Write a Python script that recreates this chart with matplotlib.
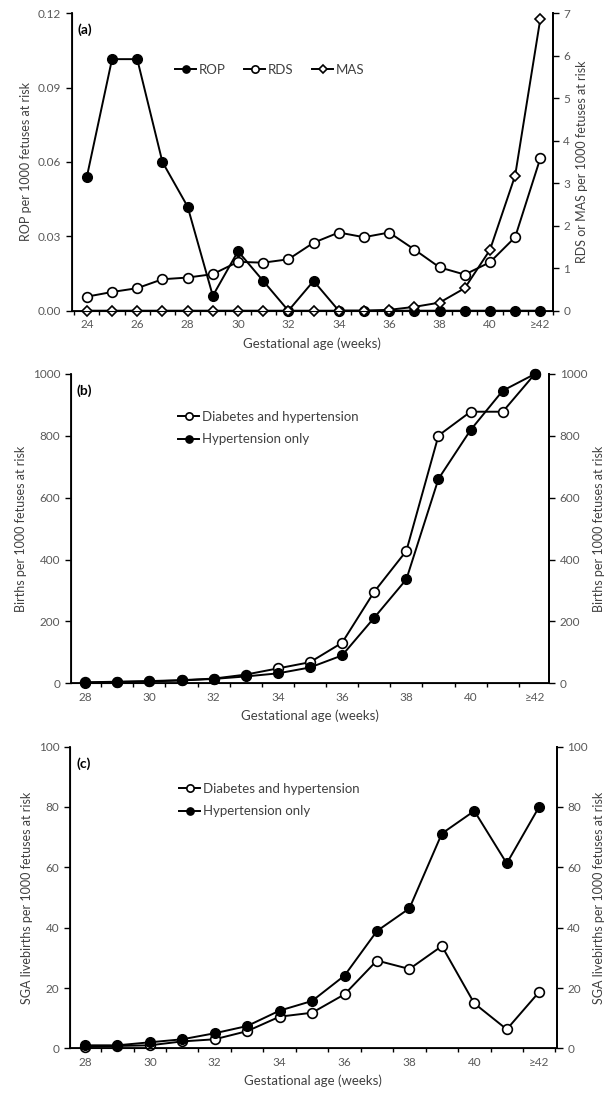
import matplotlib
matplotlib.use('Agg')
from matplotlib import pyplot as plt
from matplotlib.ticker import FixedLocator, NullFormatter

plt.rcParams['font.family'] = ['Lato', 'DejaVu Sans']

# panel (a): neonatal morbidity by gestational age
weeks_a = ['24', '25', '26', '27', '28', '29', '30', '31', '32', '33', '34', '35',
           '36', '37', '38', '39', '40', '41', '\u226542']
rop = [0.054, 0.1015, 0.1015, 0.060, 0.042, 0.006, 0.024, 0.012, 0.0, 0.012,
       0.0, 0.0, 0.0, 0.0, 0.0, 0.0, 0.0, 0.0, 0.0]
rds = [0.33, 0.44, 0.53, 0.74, 0.78, 0.86, 1.15, 1.13, 1.21, 1.60, 1.84, 1.73,
       1.84, 1.44, 1.02, 0.85, 1.14, 1.73, 3.59]
mas = [0.0, 0.0, 0.0, 0.0, 0.0, 0.0, 0.0, 0.0, 0.0, 0.0, 0.0, 0.0,
       0.02, 0.09, 0.19, 0.53, 1.43, 3.18, 6.87]

# panels (b) and (c)
weeks_bc = ['28', '29', '30', '31', '32', '33', '34', '35', '36', '37', '38',
            '39', '40', '41', '\u226542']
births_dh = [3, 5, 7, 10, 15, 28, 48, 68, 131, 296, 428, 801, 878, 878, 1000]
births_h = [2, 4, 6, 9, 14, 22, 32, 51, 90, 212, 336, 661, 819, 946, 1000]
sga_dh = [0.5, 0.8, 1.0, 2.3, 3.0, 5.7, 10.5, 11.8, 17.9, 29.1, 26.3, 33.9,
          14.9, 6.3, 18.7]
sga_h = [1.0, 1.0, 2.0, 3.0, 5.0, 7.4, 12.5, 15.7, 24.1, 38.9, 46.4, 71.2,
         78.7, 61.3, 80.1]

TICK_C = '#595959'
LAB_C = '#404040'
LW = 1.4


def style_axis(ax, labels, xlim):
    n = len(labels)
    ax.set_xlim(*xlim)
    ax.xaxis.set_major_locator(FixedLocator(range(0, n, 2)))
    ax.set_xticklabels(labels[::2])
    ax.xaxis.set_minor_locator(FixedLocator([i + 0.5 for i in range(-1, n)]))
    ax.xaxis.set_minor_formatter(NullFormatter())
    ax.tick_params(axis='x', which='major', length=0, pad=6,
                   labelsize=8.5, labelcolor=TICK_C)
    ax.tick_params(axis='x', which='minor', length=3, width=1,
                   direction='out', color='black')
    ax.tick_params(axis='y', length=4, width=1, direction='out',
                   labelsize=8.5, labelcolor=TICK_C)
    for s in ['left', 'right', 'bottom']:
        ax.spines[s].set_linewidth(1.3)
    ax.spines['top'].set_visible(False)
    ax.set_xlabel('Gestational age (weeks)', fontsize=9.5, color=LAB_C,
                  labelpad=5)


fig = plt.figure(figsize=(6.13, 10.99), dpi=100)

# ---- (a)
ax1 = fig.add_axes([0.117, 0.7173, 0.785, 0.2706])
xa = list(range(len(weeks_a)))
ax1.plot(xa, rop, color='black', lw=LW, marker='o', ms=7,
         mfc='black', mec='black', label='ROP', clip_on=False, zorder=3)
ax1.set_ylim(0, 0.12)
ax1.set_yticks([0, 0.03, 0.06, 0.09, 0.12])
ax1.set_yticklabels(['0.00', '0.03', '0.06', '0.09', '0.12'])
style_axis(ax1, weeks_a, (-0.6, 18.5))
ax1.set_ylabel('ROP per 1000 fetuses at risk', fontsize=9, color=LAB_C)

ax1r = ax1.twinx()
ax1r.plot(xa, rds, color='black', lw=LW, marker='o', ms=7,
          mfc='white', mec='black', mew=1.2, label='RDS', clip_on=False)
ax1r.plot(xa, mas, color='black', lw=LW, marker='D', ms=5.5,
          mfc='white', mec='black', mew=1.2, label='MAS', clip_on=False)
ax1r.set_ylim(0, 7)
ax1r.set_yticks(range(0, 8))
ax1r.spines['top'].set_visible(False)
ax1r.spines['right'].set_linewidth(1.3)
ax1r.tick_params(axis='y', length=4, width=1, direction='out',
                 labelsize=8.5, labelcolor=TICK_C)
ax1r.set_ylabel('RDS or MAS per 1000 fetuses at risk', fontsize=9,
                color=LAB_C)
h1, l1 = ax1.get_legend_handles_labels()
h2, l2 = ax1r.get_legend_handles_labels()
ax1r.legend(h1 + h2, l1 + l2, loc='upper left', bbox_to_anchor=(0.19, 0.87),
            ncol=3, frameon=False, fontsize=9.5, handlelength=1.6,
            markerscale=0.75, columnspacing=1.4, handletextpad=0.2,
            labelcolor=LAB_C)
ax1.text(0.013, 0.965, '(a)', transform=ax1.transAxes, fontsize=10,
         fontweight='bold', va='top', ha='left')


def bottom_panel(rect, dh, h, ymax, ystep, ylabel, tag, xlim):
    ax = fig.add_axes(rect)
    xb = list(range(len(weeks_bc)))
    ax.plot(xb, dh, color='black', lw=LW, marker='o', ms=7, mfc='white',
            mec='black', mew=1.2, label='Diabetes and hypertension',
            clip_on=False, zorder=3)
    ax.plot(xb, h, color='black', lw=LW, marker='o', ms=7, mfc='black',
            mec='black', label='Hypertension only', clip_on=False, zorder=4)
    ax.set_ylim(0, ymax)
    ticks = list(range(0, ymax + 1, ystep))
    ax.set_yticks(ticks)
    style_axis(ax, weeks_bc, xlim)
    ax.set_ylabel(ylabel, fontsize=9, color=LAB_C)
    axr = ax.twinx()
    axr.set_ylim(0, ymax)
    axr.set_yticks(ticks)
    axr.spines['top'].set_visible(False)
    axr.spines['right'].set_linewidth(1.3)
    axr.tick_params(axis='y', length=4, width=1, direction='out',
                    labelsize=8.5, labelcolor=TICK_C)
    axr.set_ylabel(ylabel, fontsize=9, color=LAB_C)
    ax.legend(loc='upper left', bbox_to_anchor=(0.2, 0.92), frameon=False,
              fontsize=9.5, handlelength=1.6, markerscale=0.75,
              handletextpad=0.2, labelspacing=0.8, labelcolor=LAB_C)
    ax.text(0.013, 0.965, tag, transform=ax.transAxes, fontsize=10,
            fontweight='bold', va='top', ha='left')
    return ax


bottom_panel([0.1153, 0.3783, 0.7808, 0.2814], births_dh, births_h, 1000, 200,
             'Births per 1000 fetuses at risk', '(b)', (-0.45, 14.45))
bottom_panel([0.1142, 0.0461, 0.794, 0.2745], sga_dh, sga_h, 100, 20,
             'SGA livebirths per 1000 fetuses at risk', '(c)', (-0.46, 14.54))

fig.savefig('out.png', dpi=100)
